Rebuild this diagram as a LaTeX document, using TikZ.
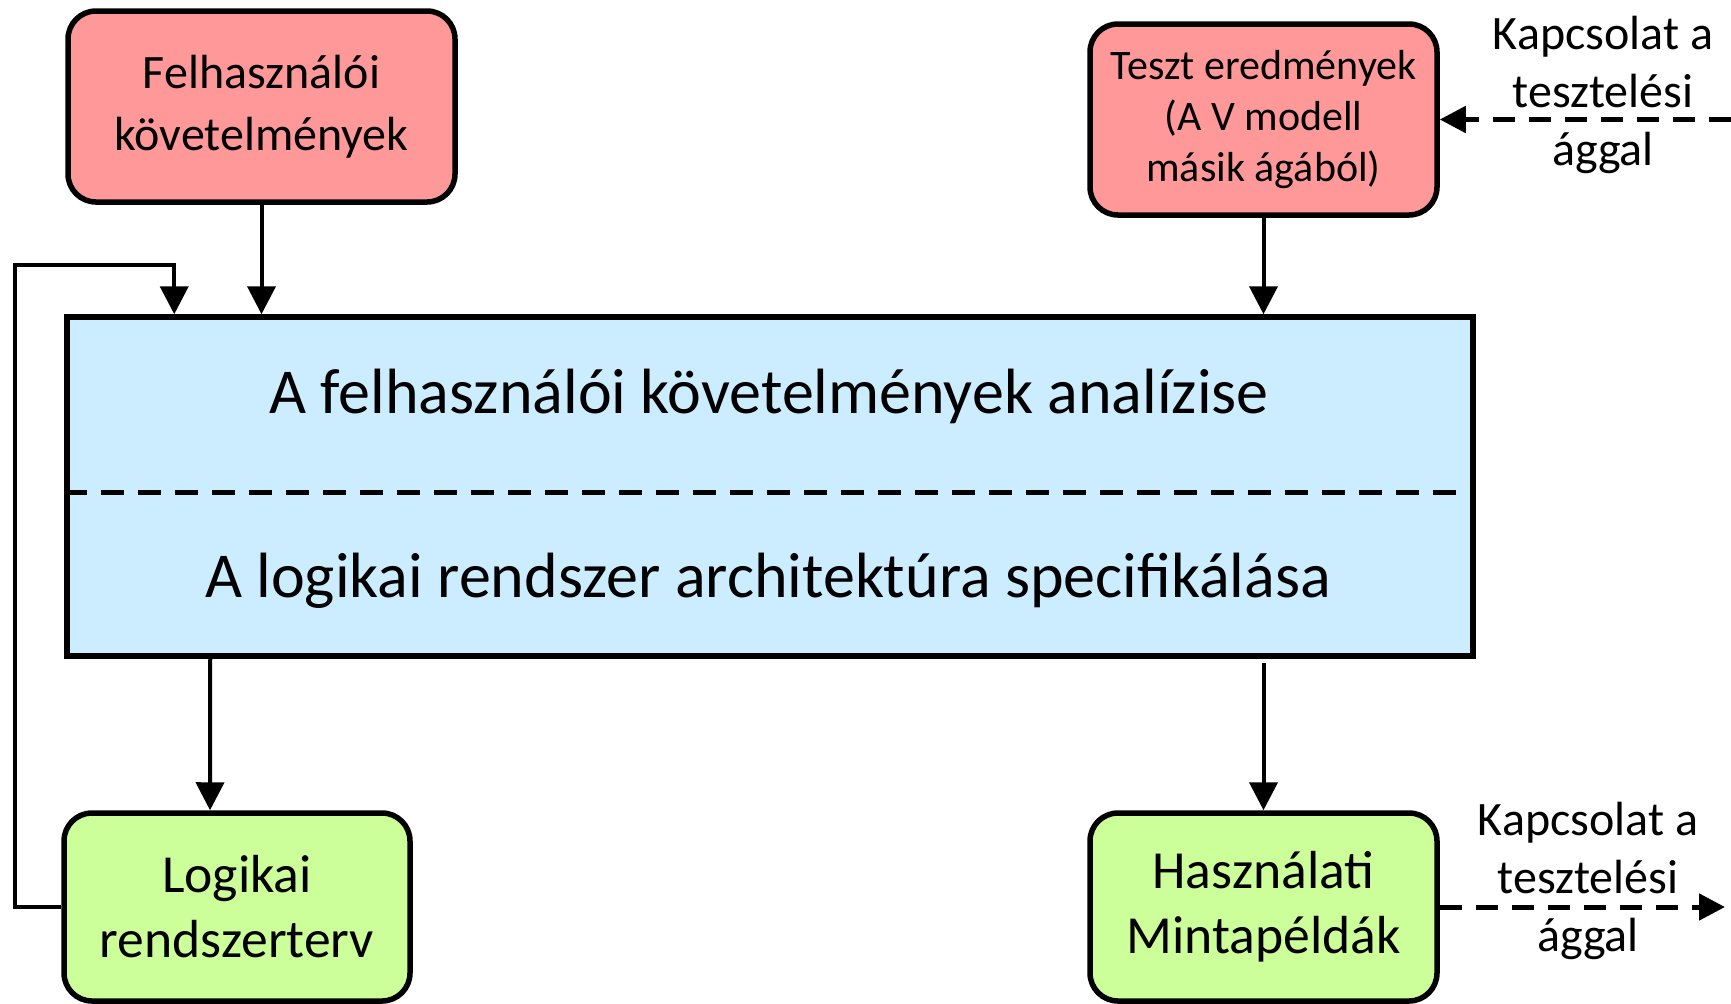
\documentclass[tikz,border=0pt]{standalone}
\usepackage{fontspec}
\setmainfont{Carlito}
\usetikzlibrary{arrows.meta,calc}
\definecolor{reqred}{HTML}{FF9999}
\definecolor{outgreen}{HTML}{CCFF99}
\definecolor{anablue}{HTML}{CCECFF}
\begin{document}
\begin{tikzpicture}[x=0.5pt,y=-0.5pt,
  box/.style={draw=black, line width=2.75pt, rounded corners=14pt, align=center, inner sep=0pt},
  reqbox/.style={box, fill=reqred},
  outbox/.style={box, fill=outgreen},
  flow/.style={line width=2pt, -{Triangle[length=14pt,width=14pt]}},
  link/.style={line width=2.5pt, dash pattern=on 11pt off 7pt, -{Triangle[length=13pt,width=13pt]}},
  note/.style={align=center, inner sep=0pt, font=\fontsize{24}{29}\selectfont}
]
\fill[white] (0,0) rectangle (1731,1003);
\useasboundingbox (0,0) rectangle (1731,1003);

% input boxes
\node[reqbox, minimum width=193.5pt, minimum height=95.5pt,
      font=\fontsize{24}{31}\selectfont] (felh) at (261.5,106.5)
      {Felhasználói\\követelmények};
\node[reqbox, minimum width=173.5pt, minimum height=95.5pt,
      font=\fontsize{21}{25.5}\selectfont] (teszt) at (1263.5,119.5)
      {Teszt eredmények\\(A V modell\\másik ágából)};

% analysis block
\node[draw=black, line width=2.75pt, fill=anablue, minimum width=703pt,
      minimum height=169.5pt, inner sep=0pt] (main) at (770,486.5) {};
\node[anchor=base, inner sep=0pt, font=\fontsize{32}{38}\selectfont] (ana1) at (769,413)
      {A felhasználói követelmények analízise};
\node[anchor=base, inner sep=0pt, font=\fontsize{32}{38}\selectfont] (ana2) at (768,597)
      {A logikai rendszer architektúra specifikálása};
\draw[line width=2.5pt, dash pattern=on 11.5pt off 7pt]
      ([yshift=-2.75pt]main.west) -- ([yshift=-2.75pt]main.east);

% output boxes
\node[outbox, minimum width=173pt, minimum height=94pt,
      font=\fontsize{26.8}{32.5}\selectfont] (logikai) at (237,907)
      {Logikai\\rendszerterv};
\node[outbox, minimum width=173.5pt, minimum height=94pt,
      font=\fontsize{26.8}{32.5}\selectfont] (hasz) at (1263.5,907)
      {Használati\\Mintapéldák};

% links to the testing branch
\node[note] (notein) at (1603,95) {Kapcsolat a\\tesztelési\\ággal};
\node[note] (noteout) at (1588,881) {Kapcsolat a\\tesztelési\\ággal};
\coordinate (tin) at (1731,119.5);
\coordinate (tout) at (1725,907);
\coordinate (fbl) at (15,265);

% connectors
\draw[flow] (felh) -- (felh |- main.north);
\draw[flow] (teszt) -- (teszt |- main.north);
\draw[flow] ([xshift=73pt]main.south west) -- ([xshift=-13.5pt]logikai.north);
\draw[flow] ([yshift=-2pt]main.south -| hasz) -- (hasz.north);
\draw[flow] (logikai.west) -| (fbl) -| ([xshift=55pt]main.north west);
\draw[link] (tin) -- (teszt.east);
\draw[link] (hasz.east) -- (tout);
\end{tikzpicture}
\end{document}
